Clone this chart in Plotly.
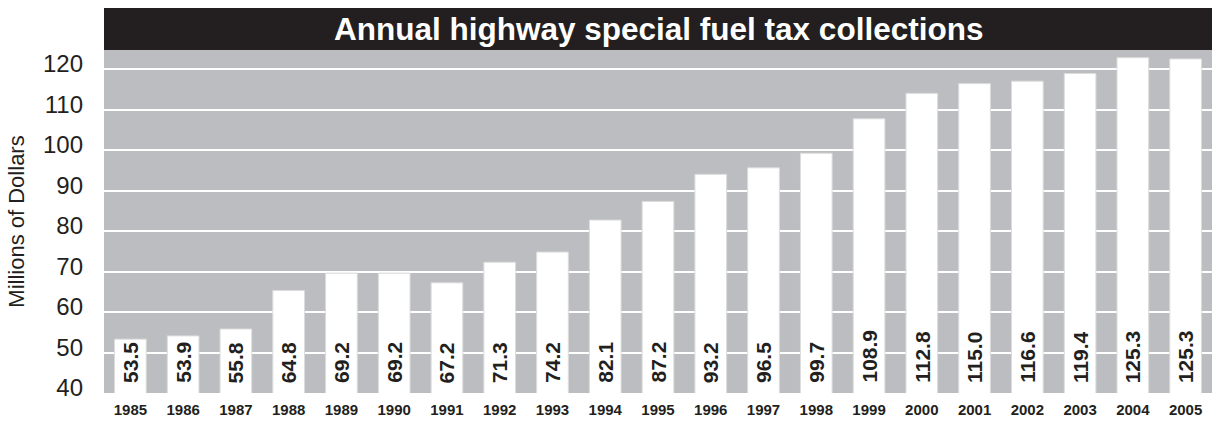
import plotly.graph_objects as go

years = list(range(1985, 2006))
# bar heights as drawn in the picture
bar_heights = [53.3, 54.1, 55.8, 65.3, 69.6, 69.6, 67.2, 72.3, 74.8, 82.7, 87.3,
               94.0, 95.6, 99.2, 107.7, 114.0, 116.4, 117.0, 118.9, 122.8, 122.5]
# printed value labels
value_labels = ["53.5", "53.9", "55.8", "64.8", "69.2", "69.2", "67.2", "71.3", "74.2", "82.1", "87.2",
                "93.2", "96.5", "99.7", "108.9", "112.8", "115.0", "116.6", "119.4", "125.3", "125.3"]
y_ticks = [40, 50, 60, 70, 80, 90, 100, 110, 120]
y_min, y_max = 40, 124.7

title_text = "Annual highway special fuel tax collections"
y_title = "Millions of Dollars"

font_family = "Liberation Sans, Arial, sans-serif"
ink = "#231f20"

fig = go.Figure(go.Bar(
    x=years, y=bar_heights,
    marker=dict(color="white", line=dict(color="#dcdcdc", width=1)),
    width=0.6,
))

# value labels written vertically at the base of each bar
for yr, lab in zip(years, value_labels):
    fig.add_annotation(x=yr, y=y_min, xref="x", yref="y", text=lab, textangle=-90,
                       xanchor="center", yanchor="bottom", yshift=8, showarrow=False,
                       font=dict(family=font_family, size=21, color=ink, weight="bold"))

plot_h = 422 - 50 - 29
fig.add_shape(type="rect", xref="paper", yref="paper", x0=0, x1=1,
              y0=1, y1=1 + 42 / plot_h, fillcolor=ink, line=dict(width=0), layer="above")
fig.add_annotation(text=title_text, xref="paper", yref="paper", x=0.5, y=1 + 21 / plot_h,
                   showarrow=False, xanchor="center", yanchor="middle",
                   font=dict(family=font_family, size=31.5, color="white", weight="bold"))

fig.update_layout(
    width=1214, height=422,
    margin=dict(l=104, r=2, t=50, b=29),
    paper_bgcolor="white", plot_bgcolor="#bcbdc0",
    showlegend=False,
)
fig.update_xaxes(type="linear", range=[years[0] - 0.5, years[-1] + 0.5],
                 tickvals=years, ticktext=[str(y) for y in years],
                 showgrid=False, ticks="",
                 tickfont=dict(family=font_family, size=15, color=ink, weight="bold"),
                 ticklabelstandoff=6, zeroline=False)
fig.update_yaxes(range=[y_min, y_max], tickvals=y_ticks, showgrid=True, gridcolor="white",
                 gridwidth=2, ticks="", zeroline=False,
                 tickfont=dict(family=font_family, size=24, color=ink),
                 ticklabelstandoff=20, ticklabelshift=-5,
                 title=dict(text=y_title, font=dict(family=font_family, size=22, color=ink), standoff=12))

fig.write_html("out.html", config={"displayModeBar": False},
               post_script="document.body.style.margin='0px';document.body.style.overflow='hidden';")
